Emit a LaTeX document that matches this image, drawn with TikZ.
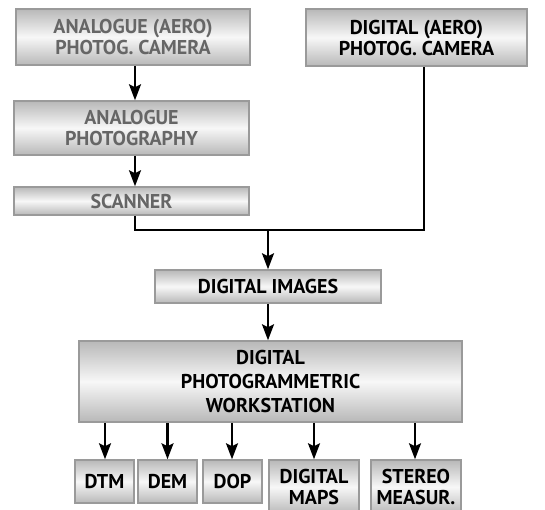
\documentclass[tikz,border=0pt]{standalone}
\usepackage{fontspec}
\setmainfont{PT Sans}
\usetikzlibrary{arrows.meta}
\definecolor{boxgray}{HTML}{B8B8B8}
\definecolor{edgegray}{HTML}{9A9A9A}
\definecolor{txtgray}{HTML}{666666}
\tikzset{
  box/.style={draw=edgegray, line width=1.5pt, rectangle, top color=boxgray, bottom color=boxgray, middle color=white!97!black,
    inner sep=0pt, align=center, font=\fontsize{20}{21}\selectfont\bfseries, text=black},
  grey/.style={text=txtgray},
  conn/.style={line width=2.3pt, draw=black},
  arr/.style={conn, -{Stealth[length=16pt,width=12pt,inset=3pt]}},
}
\begin{document}
\begin{tikzpicture}[x=1pt,y=-1pt]
\useasboundingbox (0,0) rectangle (545,509);
\node[box,grey,minimum width=234pt,minimum height=56pt] (acam) at (133,37) {ANALOGUE (AERO)\\PHOTOG. CAMERA};
\node[box,grey,minimum width=235pt,minimum height=54pt] (aphoto) at (131.5,128) {ANALOGUE\\PHOTOGRAPHY};
\node[box,grey,minimum width=235pt,minimum height=28pt] (scan) at (131.5,201) {SCANNER};
\node[box,minimum width=221pt,minimum height=57pt] (dcam) at (416.5,37.5) {DIGITAL (AERO)\\PHOTOG. CAMERA};
\node[box,minimum width=226pt,minimum height=33pt] (dimg) at (268,286.5) {DIGITAL IMAGES};
\node[box,minimum width=383pt,minimum height=81pt,font=\fontsize{20}{24}\selectfont\bfseries] (ws) at (270.5,381.5) {DIGITAL\\PHOTOGRAMMETRIC\\WORKSTATION};
\node[box,minimum width=59pt,minimum height=43pt] (dtm) at (104.5,481.5) {DTM};
\node[box,minimum width=59pt,minimum height=43pt] (dem) at (167.5,481.5) {DEM};
\node[box,minimum width=59pt,minimum height=43pt] (dop) at (232.5,481.5) {DOP};
\node[box,minimum width=90pt,minimum height=54pt] (maps) at (314,487) {DIGITAL\\MAPS};
\node[box,minimum width=90pt,minimum height=54pt] (stereo) at (416,487) {STEREO\\MEASUR.};
\coordinate (jl) at (135,230);
\coordinate (jr) at (424,230);
\coordinate (jm) at (268,230);
\draw[arr] (acam.south -| 135,0) -- (aphoto.north -| 135,0);
\draw[arr] (aphoto.south -| 135,0) -- (scan.north -| 135,0);
\draw[conn] (scan.south -| jl) -- (jl) -- (jr) -- (dcam.south -| jr);
\draw[arr] (jm) -- (dimg.north);
\draw[arr] (dimg.south) -- (ws.north -| dimg.south);
\draw[arr] (ws.south -| 105,0) -- (dtm.north -| 105,0);
\draw[arr] (ws.south -| dem.north) -- (dem.north);
\draw[arr] (ws.south -| 232,0) -- (dop.north -| 232,0);
\draw[arr] (ws.south -| maps.north) -- (maps.north);
\draw[arr] (ws.south -| 415,0) -- (stereo.north -| 415,0);
\end{tikzpicture}
\end{document}
